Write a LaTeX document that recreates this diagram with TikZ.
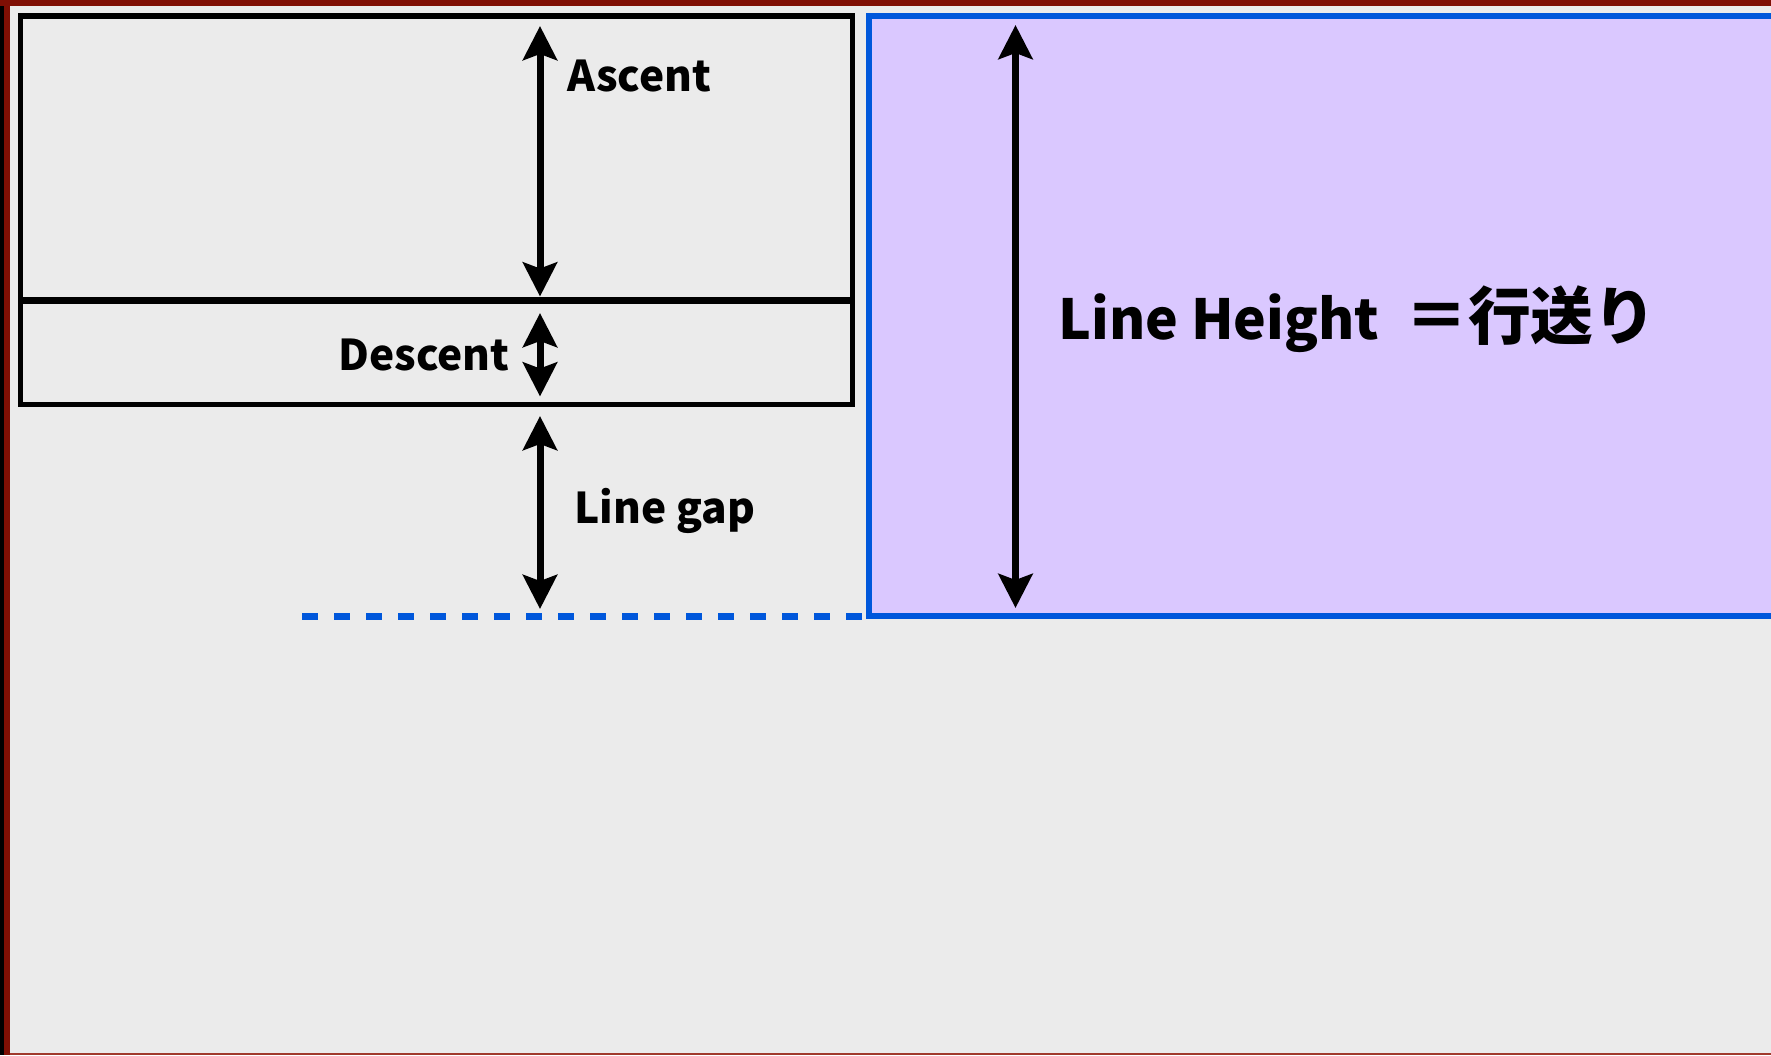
\documentclass[tikz,border=0pt]{standalone}
\usepackage{fontspec}
\setmainfont{Noto Sans CJK JP}
\usetikzlibrary{arrows.meta}
\definecolor{bg}{HTML}{EBEBEB}
\definecolor{frame}{HTML}{7F0F04}
\definecolor{framelight}{HTML}{A0392C}
\definecolor{lineblue}{HTML}{0057DB}
\definecolor{lilac}{HTML}{DAC8FF}
\newcommand{\cjkbig}{\fontsize{31.4}{36}\selectfont}
\begin{document}
\begin{tikzpicture}[x=0.5pt,y=-0.5pt,
  tip/.tip={Stealth[length=17pt,width=17pt,inset=3pt]},
  dim/.style={line width=3.5pt,black,tip-tip},
  lbl/.style={inner sep=0pt,anchor=base west,font=\bfseries\fontsize{21.2}{26}\selectfont},
  biglbl/.style={lbl,font=\bfseries\fontsize{27.6}{34}\selectfont},
  box/.style={draw=black,line width=2.75pt},
  midline/.style={draw=black,line width=3.5pt},
  bluebox/.style={draw=lineblue,fill=lilac,line width=3pt},
  gapline/.style={draw=lineblue,line width=3.5pt,dash pattern=on 8.15pt off 7.85pt}]
\useasboundingbox (0,0) rectangle (1771,1055);
% background and frame
\fill[bg] (0,0) rectangle (1771,1055);
\fill[black] (0,0) rectangle (4,1055);
\fill[frame] (4,0) rectangle (10,1055);
\fill[frame] (0,0) rectangle (1771,6);
\fill[framelight] (10,1053) rectangle (1771,1055);
% line height box
\path[bluebox] (1800,16) -- (869,16) -- (869,615.5) -- (1800,615.5);
% ascent / descent boxes
\draw[box] (20.5,16) rectangle (852.5,404.5);
\draw[midline] (20.5,300) -- (852.5,300);
% line gap baseline
\coordinate (gapL) at (302,616.5);
\coordinate (gapR) at (862,616.5);
\draw[gapline] (gapL) -- (gapR);
% dimension end points
\coordinate (ascTop) at (540,26);
\coordinate (ascBot) at (540,296.5);
\coordinate (desTop) at (540,313);
\coordinate (desBot) at (540,396.5);
\coordinate (gapTop) at (540,416);
\coordinate (gapBot) at (540,609);
\coordinate (lhTop) at (1015.5,25);
\coordinate (lhBot) at (1015.5,608);
\draw[dim] (ascTop) -- (ascBot);
\draw[dim] (desTop) -- (desBot);
\draw[dim] (gapTop) -- (gapBot);
\draw[dim] (lhTop) -- (lhBot);
% labels
\node[lbl] (ascent) at (567,91.5) {Ascent};
\node[lbl] (descent) at (338,370) {Descent};
\node[lbl] (linegap) at (574,523) {Line gap};
\node[biglbl] (lineheight) at (1058,339) {Line Height\hspace*{13pt}{\cjkbig ＝行送り}};
\end{tikzpicture}
\end{document}
